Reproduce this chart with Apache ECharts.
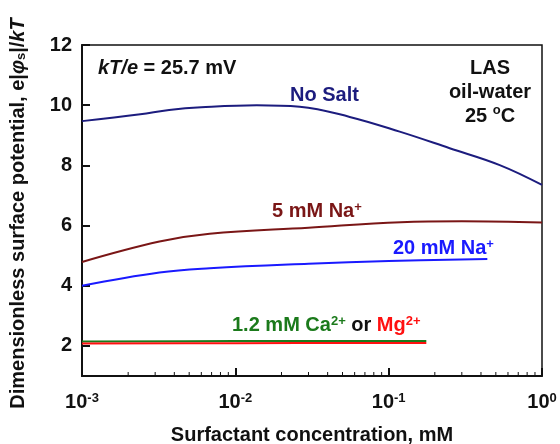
<!DOCTYPE html>
<html>
<head>
<meta charset="utf-8">
<script src="https://cdn.jsdelivr.net/npm/echarts@6/dist/echarts.min.js"></script>
<style>
  html, body { margin: 0; padding: 0; background: #fff; }
  #chart { width: 560px; height: 444px; }
</style>
</head>
<body>
<div id="chart"></div>
<script>
// Surfactant concentration (mM) and dimensionless surface potential e|phi_s|/kT
const concNoSalt = [0.001, 0.0024, 0.0037, 0.006, 0.0138, 0.0263, 0.0557, 0.118, 0.25, 0.53, 1.0];
const potNoSalt  = [9.47, 9.70, 9.84, 9.93, 10.0, 9.95, 9.61, 9.12, 8.57, 8.01, 7.35];

const conc5Na = [0.001, 0.0032, 0.0068, 0.030, 0.12, 0.3, 1.0];
const pot5Na  = [4.79, 5.47, 5.73, 5.93, 6.11, 6.14, 6.10];

const conc20Na = [0.001, 0.0032, 0.0068, 0.030, 0.1, 0.44];
const pot20Na  = [4.00, 4.44, 4.58, 4.73, 4.82, 4.89];

const concCa = [0.001, 0.01, 0.176];
const potCa  = [2.15, 2.16, 2.16];

const concMg = [0.001, 0.01, 0.176];
const potMg  = [2.08, 2.09, 2.10];

const yTicks = [2, 4, 6, 8, 10, 12];
const xMinorTicks = [0.002, 0.003, 0.004, 0.005, 0.006, 0.007, 0.008, 0.009,
                     0.02, 0.03, 0.04, 0.05, 0.06, 0.07, 0.08, 0.09,
                     0.2, 0.3, 0.4, 0.5, 0.6, 0.7, 0.8, 0.9];

const zip = (xs, ys) => xs.map((x, i) => [x, ys[i]]);

const FONT = 'Liberation Sans, Arial, sans-serif';
const FS = 20;      // main text size
const FS_SUP = 13;  // superscript / subscript size
const AXIS_COLOR = '#111';

const C_NOSALT = '#1c1c7e';
const C_NA5 = '#7a1616';
const C_NA20 = '#1a1aff';
const C_CA = '#1b7a1b';
const C_MG = '#ff1010';

const chart = echarts.init(document.getElementById('chart'), null, { renderer: 'canvas' });

function lineSeries(name, xs, ys, color, z) {
  return {
    name: name,
    type: 'line',
    data: zip(xs, ys),
    smooth: 0.4,
    showSymbol: false,
    symbol: 'none',
    z: z,
    lineStyle: { color: color, width: 2 },
    silent: true
  };
}

function sup(color) {
  return { fontFamily: FONT, fontWeight: 'bold', fontSize: FS_SUP, fill: color, color: color, verticalAlign: 'top', lineHeight: 14 };
}

function annot(x, y, text, color, rich, extra) {
  return {
    type: 'text', x: x, y: y, silent: true,
    style: Object.assign({
      text: text,
      font: 'bold ' + FS + 'px ' + FONT,
      fill: color,
      textAlign: 'left',
      textVerticalAlign: 'middle',
      verticalAlign: 'middle',
      rich: rich || {}
    }, extra || {})
  };
}

const option = {
  backgroundColor: '#fff',
  animation: false,
  grid: {
    left: 82, right: 18, top: 45, bottom: 68,
    outerBoundsMode: 'none',
    containLabel: false,
    show: true, borderColor: AXIS_COLOR, borderWidth: 1.5, backgroundColor: 'transparent'
  },
  xAxis: {
    type: 'log',
    logBase: 10,
    min: 0.001,
    max: 1,
    name: 'Surfactant concentration, mM',
    nameLocation: 'middle',
    nameGap: 49,
    nameTextStyle: { fontFamily: FONT, fontWeight: 'bold', fontSize: FS, color: '#111' },
    axisLine: { lineStyle: { color: AXIS_COLOR, width: 2 } },
    axisTick: { inside: true, length: 8, lineStyle: { color: AXIS_COLOR, width: 2 } },
    splitLine: { show: false },
    axisLabel: {
      margin: 16,
      fontFamily: FONT,
      fontWeight: 'bold',
      fontSize: FS,
      color: '#111',
      formatter: function (v) {
        const e = Math.round(Math.log10(v));
        return '10{sup|' + e + '}';
      },
      rich: { sup: sup('#111') }
    }
  },
  yAxis: {
    type: 'value',
    min: 1,
    max: 12,
    name: 'Dimensionless surface potential, e|{i|φ}{sub|s}|/{i|kT}',
    nameLocation: 'middle',
    nameGap: 54,
    nameTextStyle: {
      fontFamily: FONT, fontWeight: 'bold', fontSize: FS, color: '#111',
      padding: [0, 6, 0, 0],
      rich: {
        i: { fontFamily: FONT, fontWeight: 'bold', fontStyle: 'italic', fontSize: FS, color: '#111' },
        sub: { fontFamily: FONT, fontWeight: 'bold', fontSize: FS_SUP, color: '#111', verticalAlign: 'bottom', lineHeight: 12 }
      }
    },
    axisLine: { show: true, lineStyle: { color: AXIS_COLOR, width: 2 } },
    axisTick: { show: true, inside: true, length: 8, customValues: yTicks, lineStyle: { color: AXIS_COLOR, width: 2 } },
    splitLine: { show: false },
    axisLabel: {
      customValues: yTicks,
      margin: 10,
      fontFamily: FONT,
      fontWeight: 'bold',
      fontSize: FS,
      color: '#111',
      padding: [4, 0, 0, 0]
    }
  },
  series: [
    lineSeries('No Salt', concNoSalt, potNoSalt, C_NOSALT, 3),
    lineSeries('5 mM Na+', conc5Na, pot5Na, C_NA5, 3),
    lineSeries('20 mM Na+', conc20Na, pot20Na, C_NA20, 3),
    lineSeries('1.2 mM Ca2+', concCa, potCa, C_CA, 3),
    lineSeries('1.2 mM Mg2+', concMg, potMg, C_MG, 4),
    {
      // logarithmic minor ticks along the bottom axis
      type: 'custom',
      silent: true,
      z: 5,
      data: xMinorTicks.map(v => [v, 1]),
      renderItem: function (params, api) {
        const p = api.coord([api.value(0), api.value(1)]);
        return {
          type: 'line',
          shape: { x1: p[0], y1: p[1], x2: p[0], y2: p[1] - 4 },
          style: { stroke: AXIS_COLOR, lineWidth: 1 }
        };
      }
    }
  ],
  graphic: [
    annot(98, 68, '{i|kT/e} = 25.7 mV', '#111', {
      i: { fontFamily: FONT, fontWeight: 'bold', fontStyle: 'italic', fontSize: FS, fill: '#111' }
    }),
    annot(290, 95, 'No Salt', C_NOSALT),
    annot(490, 92, 'LAS\noil-water\n25 {sup|o}C', '#111', {
      sup: { fontFamily: FONT, fontWeight: 'bold', fontSize: FS_SUP, fill: '#111', verticalAlign: 'top', lineHeight: 24 }
    }, { textAlign: 'center', lineHeight: 24 }),
    annot(272, 211, '5 mM Na{sup|+}', C_NA5, { sup: sup(C_NA5) }),
    annot(393, 248, '20 mM Na{sup|+}', C_NA20, { sup: sup(C_NA20) }),
    annot(232, 325, '{g|1.2 mM Ca}{gs|2+}{k| or }{r|Mg}{rs|2+}', '#111', {
      g: { fontFamily: FONT, fontWeight: 'bold', fontSize: FS, fill: C_CA },
      gs: sup(C_CA),
      k: { fontFamily: FONT, fontWeight: 'bold', fontSize: FS, fill: '#111' },
      r: { fontFamily: FONT, fontWeight: 'bold', fontSize: FS, fill: C_MG },
      rs: sup(C_MG)
    })
  ]
};

chart.setOption(option);
</script>
</body>
</html>
